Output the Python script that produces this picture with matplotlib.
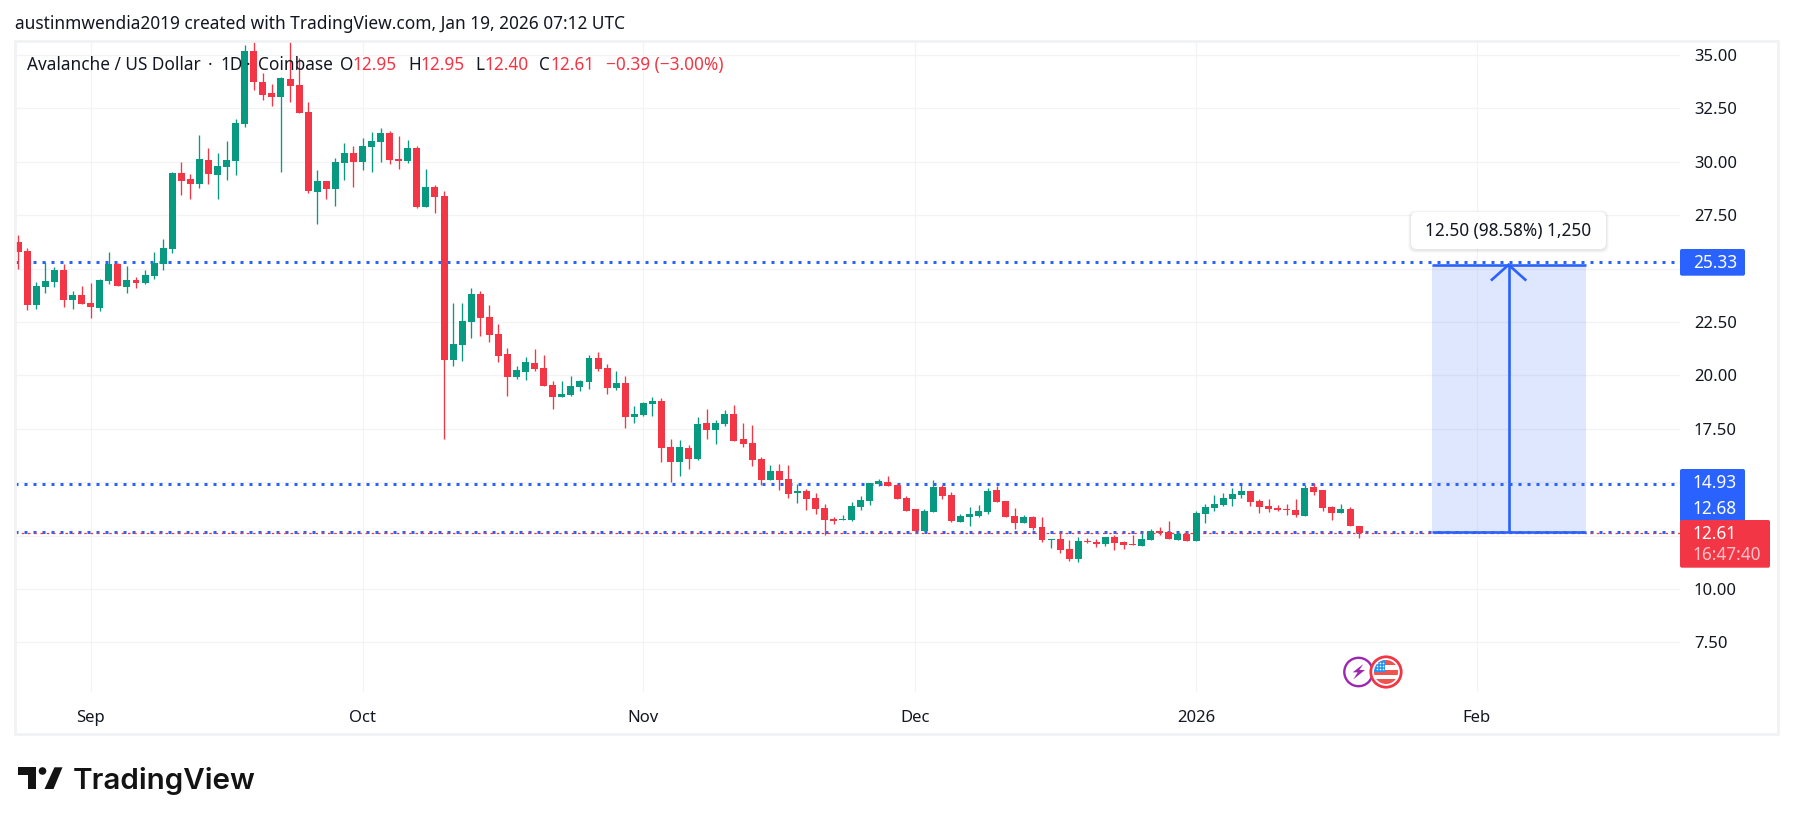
import numpy as np
import matplotlib
matplotlib.use("Agg")
import matplotlib.pyplot as plt
from matplotlib.patches import Rectangle, FancyBboxPatch, Circle, Polygon

# Days counted from 1 Sep 2025
first_day = -8
opens = [26.25,25.82,23.31,24.14,24.37,24.93,23.53,23.76,23.39,23.16,24.42,25.22,24.14,24.47,24.33,24.65,25.22,25.92,29.48,29.20,28.96,30.08,29.38,29.76,30.04,31.77,35.19,33.74,33.22,33.03,33.88,33.60,32.33,28.59,29.10,28.73,29.94,30.41,29.99,30.69,30.93,31.35,30.13,30.04,30.65,27.88,28.82,28.40,
20.72,21.42,22.50,23.81,22.73,21.94,21.00,19.93,20.16,20.58,20.35,19.55,18.99,19.08,19.46,19.69,20.82,20.35,19.41,19.64,18.05,18.15,18.66,18.80,16.65,15.95,16.60,16.09,17.77,17.44,17.73,18.19,17.02,16.84,16.09,15.10,15.52,15.15,14.49,14.59,14.26,13.79,13.28,13.23,13.23,13.84,14.12,14.92,15.01,14.87,14.26,13.75,12.72,13.61,14.78,14.40,13.14,13.37,13.42,13.61,14.64,14.12,13.42,13.09,13.37,12.90,12.29,12.34,11.87,11.41,12.25,12.20,12.11,12.44,12.20,12.11,12.01,12.29,12.72,12.67,12.29,12.58,12.25,13.51,13.79,13.93,14.21,14.40,14.59,14.12,13.89,13.79,13.75,13.70,13.42,14.78,14.64,13.84,13.56,13.75,12.95]
closes = [25.78,23.31,24.19,24.42,24.93,23.53,23.76,23.34,23.20,24.47,25.22,24.19,24.47,24.33,24.70,25.26,25.96,29.48,29.10,28.96,30.13,29.43,29.80,30.08,31.82,35.19,33.74,33.13,33.03,33.92,33.55,32.28,28.63,29.10,28.73,29.99,30.41,29.99,30.74,30.97,31.35,30.08,30.04,30.65,27.88,28.82,28.35,20.72,
21.47,22.55,23.81,22.69,21.89,20.91,19.93,20.25,20.63,20.30,19.50,18.99,19.13,19.50,19.74,20.82,20.30,19.41,19.64,18.05,18.19,18.71,18.80,16.60,15.95,16.65,16.09,17.73,17.44,17.77,18.19,16.93,16.79,16.04,15.10,15.52,15.10,14.45,14.59,14.21,13.75,13.23,13.18,13.28,13.89,14.17,14.96,15.06,14.82,14.21,13.65,12.72,13.65,14.78,14.35,13.18,13.42,13.51,13.65,14.59,14.07,13.37,13.09,13.37,12.86,12.29,12.34,11.83,11.41,12.25,12.19,12.11,12.44,12.15,12.06,12.06,12.34,12.72,12.62,12.34,12.58,12.25,13.56,13.84,13.98,14.26,14.45,14.59,14.07,13.84,13.75,13.70,13.70,13.47,14.73,14.54,13.79,13.56,13.75,12.95,12.61]
highs = [26.57,25.95,24.36,25.32,25.08,25.22,23.95,24.19,24.33,24.51,25.78,25.26,25.12,24.61,24.93,25.78,26.39,29.52,29.99,29.43,31.25,30.65,30.41,30.97,32.00,35.47,36.00,34.16,33.64,33.97,36.20,34.86,32.80,29.62,29.10,30.18,30.88,30.74,31.11,31.40,31.58,31.44,31.21,31.02,30.74,29.66,28.91,28.63,
23.39,23.39,24.09,23.95,23.30,22.41,21.28,20.44,20.86,21.24,20.96,19.74,19.74,19.97,19.79,20.96,21.10,20.53,20.21,19.97,18.57,18.76,18.99,18.94,17.02,16.98,16.74,18.05,18.43,17.91,18.38,18.61,17.77,17.68,16.18,15.81,15.85,15.81,14.92,14.68,14.49,13.98,13.37,13.47,14.07,14.35,14.96,15.15,15.29,14.92,14.35,13.75,13.75,15.10,14.87,14.54,13.51,13.84,13.93,14.73,14.82,14.12,13.79,13.47,13.42,13.37,12.34,12.67,12.29,12.44,12.39,12.34,12.44,12.53,12.25,12.53,12.62,12.81,12.90,13.18,12.67,12.72,13.65,13.98,14.40,14.49,14.73,14.87,14.59,14.21,14.21,13.93,13.98,14.21,14.87,14.96,14.64,13.89,13.98,13.84,12.95]
lows = [24.97,23.06,23.12,23.86,24.14,23.20,23.11,23.34,22.69,23.02,24.28,24.19,23.86,24.09,24.28,24.51,24.93,25.73,28.45,28.26,28.77,28.96,28.26,29.15,29.38,31.63,33.36,32.89,32.61,29.52,32.80,32.28,28.54,27.09,28.26,27.93,29.15,28.82,29.62,29.52,29.99,29.90,29.66,29.94,27.84,27.88,27.60,17.02,
20.44,20.67,21.75,21.84,21.56,20.63,19.04,19.83,19.79,20.21,19.50,18.43,18.99,19.04,19.27,19.36,20.21,19.13,19.32,17.54,17.77,18.10,18.10,15.95,15.01,15.29,15.62,16.04,17.02,16.79,17.63,16.93,16.65,15.76,14.87,15.10,14.64,14.26,14.03,13.70,13.51,12.53,13.04,13.23,13.18,13.70,13.93,14.82,14.82,14.21,13.65,12.72,12.72,13.61,14.21,13.14,13.14,12.95,13.37,13.51,14.07,13.37,12.81,13.09,12.76,12.20,11.92,11.69,11.31,11.26,12.16,11.97,12.01,11.83,11.87,12.06,12.01,12.29,12.53,12.34,12.29,12.25,12.25,13.09,13.65,13.89,13.89,14.26,13.89,13.56,13.61,13.65,13.47,13.37,13.42,14.40,13.65,13.23,13.56,12.95,12.40]

price_ticks = [35, 32.5, 30, 27.5, 25, 22.5, 20, 17.5, 15, 12.5, 10, 7.5]
hidden_ticks = [25, 15, 12.5]
month_days = [0, 30, 61, 91, 122, 153]
month_labels = ["Sep", "Oct", "Nov", "Dec", "2026", "Feb"]
levels = [25.33, 14.93, 12.68]
last_price = 12.61
measure_low, measure_high = 12.68, 25.18
measure_start, measure_end = 148, 165

GREEN, RED, BLUE = "#089981", "#f23645", "#2962ff"
GRID = "#f2f3f5"
INK = "#131722"
FONT = "Noto Sans"
plt.rcParams["font.family"] = [FONT, "DejaVu Sans"]

W, H = 1793, 824
fig = plt.figure(figsize=(W / 100, H / 100), dpi=100, facecolor="white")
L, R, T, B = 15, 1680, 41, 692
ax = fig.add_axes([L / W, 1 - B / H, (R - L) / W, (B - T) / H])
PX_DAY, PX_UNIT = 9.06, 21.36
ax.set_xlim((L - 90.7) / PX_DAY, (R - 90.7) / PX_DAY)
ax.set_ylim(35 - (B - 55) / PX_UNIT, 35 + (55 - T) / PX_UNIT)
for s in ax.spines.values():
    s.set_visible(False)

days = np.arange(first_day, first_day + len(opens))
o, c, hi, lo = map(np.array, (opens, closes, highs, lows))
colors = [GREEN if a >= b else RED for a, b in zip(c, o)]

ax.set_axisbelow(True)
ax.grid(True, axis="y", color=GRID, lw=0.9)
ax.grid(True, axis="x", color=GRID, lw=0.75)
ax.set_yticks(price_ticks)
ax.set_yticklabels(["" if v in hidden_ticks else f"{v:.2f}" for v in price_ticks])
ax.yaxis.tick_right()
ax.set_xticks(month_days)
ax.set_xticklabels(month_labels)
ax.tick_params(axis="y", length=0, pad=10, labelsize=12, labelcolor=INK)
ax.tick_params(axis="x", length=0, pad=12.6, labelsize=12, labelcolor=INK)
for lab in ax.get_xticklabels():
    if lab.get_text() == "2026":
        lab.set_fontweight("bold")

for lv in levels:
    ax.axhline(lv, color=BLUE, lw=2.16, linestyle=(0, (1, 2)), zorder=1.5, dash_capstyle="butt")
ax.axhline(last_price, color=RED, lw=0.9, linestyle=(0, (2, 3)), zorder=1.6)

ax.vlines(days, lo, hi, colors=colors, lw=0.95, zorder=2)
ax.bar(days, np.maximum(np.abs(c - o), 0.04), bottom=np.minimum(o, c), width=0.77,
       color=colors, linewidth=0, zorder=2.5)

# measure tool
ax.add_patch(Rectangle((measure_start, measure_low), measure_end - measure_start,
                       measure_high - measure_low, facecolor=BLUE, alpha=0.15, lw=0, zorder=3))
mid = (measure_start + measure_end) / 2
ax.hlines([measure_low, measure_high], measure_start, measure_end, color=BLUE, lw=1.9, zorder=3.2)
ax.vlines(mid, measure_low, measure_high, color=BLUE, lw=1.9, zorder=3.2)
ax.plot([mid - 1.84, mid, mid + 1.84], [measure_high - 0.70, measure_high, measure_high - 0.70],
        color=BLUE, lw=1.9, zorder=3.2, solid_joinstyle="miter")

# overlay in pixel coordinates for the page furniture
ov = fig.add_axes([0, 0, 1, 1], facecolor="none")
ov.set_xlim(0, W)
ov.set_ylim(H, 0)
ov.axis("off")

ov.add_patch(Rectangle((15, 40.5), 1763, 693, fill=False, edgecolor="#f1f2f4", lw=2))

ov.text(15, 24, "austinmwendia2019 created with TradingView.com, Jan 19, 2026 07:12 UTC",
        fontsize=12.45, color=INK, va="center", ha="left")
head = [(27, "Avalanche / US Dollar", INK), (208, "·", INK), (220, "1D", INK), (246, "·", INK),
        (258, "Coinbase", INK),
        (340, "O", INK), (353, "12.95", RED), (408, "H", INK), (420, "12.95", RED),
        (475, "L", INK), (484, "12.40", RED), (539, "C", INK), (550, "12.61", RED),
        (606, "−0.39 (−3.00%)", RED)]
for x, s, col in head:
    ov.text(x, 65, s, fontsize=12.4, color=col, va="center")


def round_box(x0, y0, x1, y1, col, r=2, **kw):
    p = FancyBboxPatch((x0, y0), x1 - x0, y1 - y0, boxstyle=f"round,pad=0,rounding_size={r}",
                       facecolor=col, edgecolor="none", **kw)
    ov.add_patch(p)


round_box(1680, 249, 1745, 275.7, BLUE)
round_box(1680, 469, 1745, 522, BLUE)
round_box(1680, 520, 1770, 567.7, RED)
lab = dict(fontsize=12.4, va="center", ha="left", fontweight="medium")
ov.text(1693, 263, "25.33", color="white", **lab)
ov.text(1693, 483, "14.93", color="white", **lab)
ov.text(1693, 509, "12.68", color="white", **lab)
ov.text(1693, 534, "12.61", color="white", **lab)
ov.text(1693, 555, "16:47:40", color="#fbc3c8", **lab)

# tooltip
for off, a in ((3, 0.02), (2, 0.03), (1, 0.04)):
    round_box(1411 - off, 212 - off + 1, 1606 + off, 249 + off + 1, "#000000", r=7, alpha=a, zorder=4)
round_box(1411, 212, 1606, 249, "white", r=6, zorder=4.1)
ov.text(1508.5, 231, "12.50 (98.58%) 1,250", fontsize=12.4, color=INK, ha="center", va="center", zorder=4.2)

# event icons
ov.add_patch(Circle((1358.5, 672), 14.2, facecolor="white", edgecolor="#9c27b0", lw=1.7, zorder=5))
bolt = np.array([(70, 42), (38, 67), (53, 67), (40, 88), (75, 60), (58, 60)], float) / 3 + (1340, 650)
ov.add_patch(Polygon(bolt, closed=True, facecolor="#9c27b0", edgecolor="none", zorder=5.1))
cx, cy = 1386, 672
ring = Circle((cx, cy), 15.2, facecolor="white", edgecolor=RED, lw=2, zorder=5.2)
ov.add_patch(ring)
clip = Circle((cx, cy), 12, transform=ov.transData)
for y0, y1 in ((-12.5, -7.3), (-1.7, 2.7), (7, 13)):
    rr = Rectangle((cx - 13, cy + y0), 26, y1 - y0, facecolor="#ef5350", lw=0, zorder=5.3)
    ov.add_patch(rr)
    rr.set_clip_path(clip)
canton = Rectangle((cx - 13, cy - 13), 12, 12.5, facecolor="#2196f3", lw=0, zorder=5.4)
ov.add_patch(canton)
canton.set_clip_path(clip)
for dy in (-8.5, -5.5, -2.5):
    for dx in (-8.5, -5.5, -2.5):
        ov.add_patch(Circle((cx + dx, cy + dy), 0.8, facecolor="white", lw=0, zorder=5.5))

# logo
LOGO = "#131313"
ov.add_patch(Polygon([(18, 767.3), (36, 767.3), (36, 789), (28, 789), (28, 775), (18, 775)],
                     closed=True, facecolor=LOGO, lw=0))
ov.add_patch(Circle((42.5, 771), 3.8, facecolor=LOGO, lw=0))
ov.add_patch(Polygon([(54.5, 767.3), (62.5, 767.3), (53.5, 789), (44.5, 789)],
                     closed=True, facecolor=LOGO, lw=0))
ov.text(73, 789, "TradingView", fontsize=21.3, color=LOGO, family="Inter", fontweight="semibold",
        va="baseline", ha="left")

fig.savefig("out.png", dpi=100, facecolor="white")
